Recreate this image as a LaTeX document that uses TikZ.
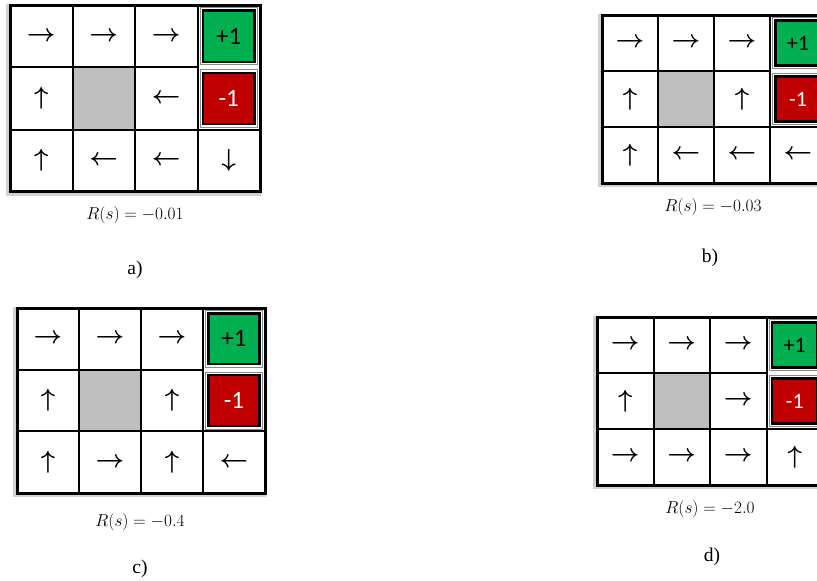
\documentclass[tikz,border=0pt]{standalone}
\usepackage{fontspec}
\newfontfamily\calib{Carlito}
\newfontfamily\timesf{Liberation Serif}
\definecolor{wingreen}{HTML}{00B050}
\definecolor{losered}{HTML}{C00000}
\definecolor{obstgray}{HTML}{BFBFBF}
\tikzset{
  shadowline/.style={draw=black!18, line width=5pt},
  obst/.style={fill=obstgray},
  termgap/.style={draw=black!45, line width=0.8pt},
  termwin/.style={fill=wingreen, draw=black, line width=2.4pt},
  termlose/.style={fill=losered, draw=black, line width=2.4pt},
  gridl/.style={draw=black, line width=2pt},
  frameline/.style={draw=black, line width=3pt},
  lbl/.style={inner sep=0pt},
  arr/.style={inner sep=0pt},
  capt/.style={inner sep=0pt, font=\fontsize{17.28}{21}\selectfont},
  sublbl/.style={inner sep=0pt, font=\timesf\fontsize{19.5}{23}\selectfont},
}
% #1 prefix, #2 x0, #3 y0, #4 cw, #5 ch, #6 arrow list, #7 arrow font size, #8 label font size
\newcommand\gworld[8]{%
\begin{scope}[shift={(#2,#3)}, name prefix=#1-]
  \draw[shadowline] (-1.5,1.5) rectangle (4*#4-1.5,3*#5+1.5);
  \fill[white] (0,0) rectangle (4*#4,3*#5);
  \fill[obst] (#4,#5) rectangle (2*#4,2*#5);
  \draw[termgap] (3*#4+2.5,2.5) rectangle (4*#4-2.5,#5-2.5);
  \draw[termwin] (3*#4+5.5,5.5) rectangle (4*#4-5.5,#5-5.5);
  \draw[termgap] (3*#4+2.5,#5+2.5) rectangle (4*#4-2.5,2*#5-2.5);
  \draw[termlose] (3*#4+5.5,#5+5.5) rectangle (4*#4-5.5,2*#5-5.5);
  \foreach \i in {1,2,3} \draw[gridl] (\i*#4,0) -- (\i*#4,3*#5);
  \draw[gridl] (0,#5) -- (3*#4,#5);
  \draw[gridl] (0,2*#5) -- (4*#4,2*#5);
  \draw[frameline] (0,0) rectangle (4*#4,3*#5);
  \node[lbl, font=\calib\fontsize{#8}{#8}\selectfont] (win) at (3.5*#4,0.5*#5) {+1};
  \node[lbl, text=white, font=\calib\fontsize{#8}{#8}\selectfont] (lose) at (3.5*#4,1.5*#5) {-1};
  \foreach \r/\c/\s in {#6}
    \node[arr, font=\boldmath\fontsize{#7}{#7}\selectfont] (a\r\c) at ({(\c-0.5)*#4},{(\r-0.5)*#5}) {$\s$};
\end{scope}}
\begin{document}
\begin{tikzpicture}[x=1pt,y=-1pt]
\useasboundingbox (0,0) rectangle (817,581);
\clip (0,0) rectangle (817,581);
\fill[white] (0,0) rectangle (817,581);
% a)
\gworld{a}{10}{5}{62.5}{62.3}{1/1/\rightarrow,1/2/\rightarrow,1/3/\rightarrow,2/1/\uparrow,2/3/\leftarrow,3/1/\uparrow,3/2/\leftarrow,3/3/\leftarrow,3/4/\downarrow}{27}{25}
\node[capt] (capa) at (135,215) {$R(s)=-0.01$};
\node[sublbl] (suba) at (135,270) {a)};
% b)
\gworld{b}{602}{15}{56}{56}{1/1/\rightarrow,1/2/\rightarrow,1/3/\rightarrow,2/1/\uparrow,2/3/\uparrow,3/1/\uparrow,3/2/\leftarrow,3/3/\leftarrow,3/4/\leftarrow}{24}{22}
\node[capt] (capb) at (713,207) {$R(s)=-0.03$};
\node[sublbl] (subb) at (710,258) {b)};
% c)
\gworld{c}{17}{308}{62}{61.7}{1/1/\rightarrow,1/2/\rightarrow,1/3/\rightarrow,2/1/\uparrow,2/3/\uparrow,3/1/\uparrow,3/2/\rightarrow,3/3/\uparrow,3/4/\leftarrow}{27}{25}
\node[capt] (capc) at (140,522) {$R(s)=-0.4$};
\node[sublbl] (subc) at (140,569) {c)};
% d)
\gworld{d}{597}{317}{56.5}{56}{1/1/\rightarrow,1/2/\rightarrow,1/3/\rightarrow,2/1/\uparrow,2/3/\rightarrow,3/1/\rightarrow,3/2/\rightarrow,3/3/\rightarrow,3/4/\uparrow}{24}{22}
\node[capt] (capd) at (710,509) {$R(s)=-2.0$};
\node[sublbl] (subd) at (712,557) {d)};
\end{tikzpicture}
\end{document}
